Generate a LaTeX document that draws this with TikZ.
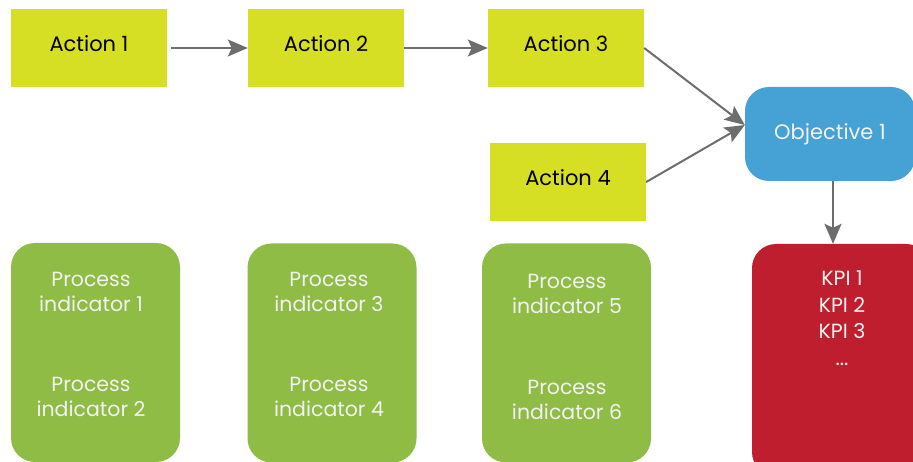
\documentclass[tikz,border=0pt]{standalone}
\usepackage{fontspec}
\setmainfont{Poppins}
\usetikzlibrary{arrows.meta,calc}
\definecolor{actfill}{RGB}{214,223,35}
\definecolor{procfill}{RGB}{143,188,69}
\definecolor{objfill}{RGB}{70,161,212}
\definecolor{kpifill}{RGB}{190,30,45}
\definecolor{linkgray}{RGB}{109,109,109}
\definecolor{softwhite}{RGB}{242,242,242}
\tikzset{
  actionbox/.style={fill=actfill, draw=none, minimum width=156pt, minimum height=78pt,
    inner sep=0pt, text=black, text height=15pt, text depth=7pt,
    font=\fontsize{21}{25}\selectfont},
  procbox/.style={fill=procfill, draw=none, rounded corners=24pt,
    minimum width=169pt, minimum height=219pt, inner sep=0pt},
  proctext/.style={text=softwhite, align=center, inner sep=0pt,
    font=\fontsize{20.5}{25}\selectfont},
  objbox/.style={fill=objfill, draw=none, rounded corners=24pt,
    minimum width=170pt, minimum height=94pt, inner sep=0pt,
    text=softwhite, font=\fontsize{21}{25}\selectfont},
  kpibox/.style={fill=kpifill, draw=none, rounded corners=24pt,
    minimum width=178pt, minimum height=232pt, inner sep=0pt},
  kpitext/.style={text=softwhite, align=center, inner sep=0pt,
    font=\fontsize{20.5}{26.5}\selectfont},
  link/.style={draw=linkgray, line width=2pt,
    -{Stealth[length=20pt,width=17pt,inset=4pt]}}
}
\begin{document}
\begin{tikzpicture}[x=1pt,y=-1pt]
\useasboundingbox (0,0) rectangle (913,462);
\clip (0,0) rectangle (913,462);

% actions
\node[actionbox] (a1) at (89,48) {Action 1};
\node[actionbox] (a2) at (326,48) {Action 2};
\node[actionbox] (a3) at (566,48) {Action 3};
\node[actionbox] (a4) at (568,182) {Action 4};

% objective and its KPIs
\node[objbox] (obj) at (830,134) {Objective 1};
\node[kpibox] (kpi) at (841,360) {};
\node[kpitext] (kpilist) at (842,318) {KPI 1\\KPI 2\\KPI 3\\...};

% process indicator panels
\node[procbox] (p1) at (95.5,352.5) {};
\node[procbox] (p2) at (332,353) {};
\node[procbox] (p3) at (566.5,353) {};
\node[proctext] (pi1) at (91,292) {Process\\indicator 1};
\node[proctext] (pi2) at (91,397) {Process\\indicator 2};
\node[proctext] (pi3) at (329,292) {Process\\indicator 3};
\node[proctext] (pi4) at (329,397) {Process\\indicator 4};
\node[proctext] (pi5) at (567,294) {Process\\indicator 5};
\node[proctext] (pi6) at (567,400) {Process\\indicator 6};

% connectors
\draw[link, shorten <=4pt] (a1.east) -- (a2.west);
\draw[link] (a2.east) -- (a3.west);
\draw[link] (a3.east) -- ($(obj.west)+(0,-9)$);
\draw[link] (a4.east) -- ($(obj.west)+(0,-9)$);
\draw[link] (obj.south) ++(3,0) coordinate (objdown) -- (objdown |- kpi.north);
\end{tikzpicture}
\end{document}
